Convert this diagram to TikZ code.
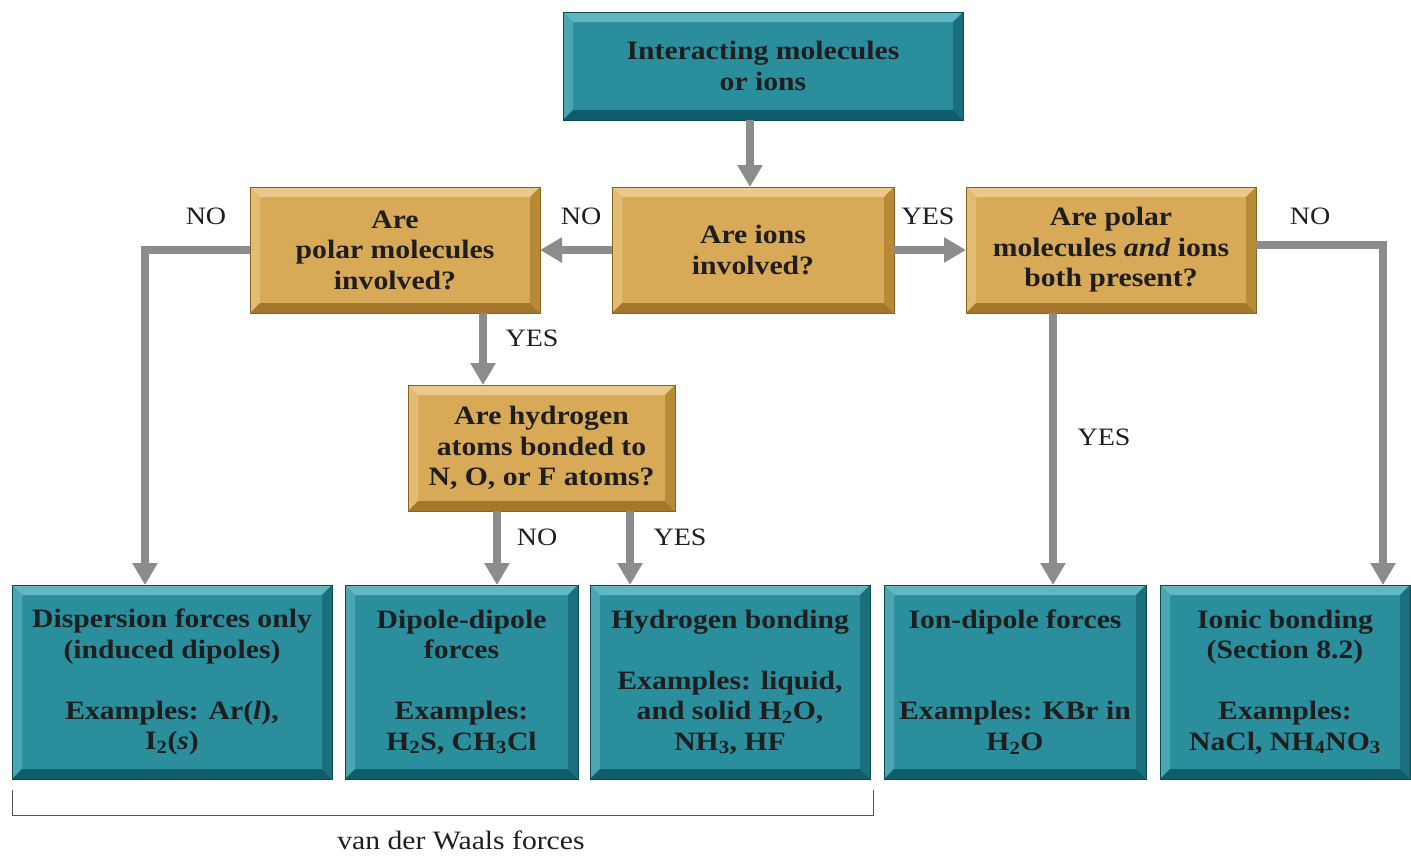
\documentclass[tikz,border=0pt]{standalone}
\usepackage{fontspec}
\setmainfont[FakeStretch=1.12]{Liberation Serif}
\usetikzlibrary{arrows.meta}
\definecolor{tealface}{HTML}{2A8E9C}
\definecolor{teallt}{HTML}{62B6C1}
\definecolor{tealltl}{HTML}{4CA6B2}
\definecolor{tealdk}{HTML}{0F5D6A}
\definecolor{tealdkr}{HTML}{1B6E7B}
\definecolor{tealedge}{HTML}{0B4B56}
\definecolor{goldface}{HTML}{D8A957}
\definecolor{goldlt}{HTML}{EBC98A}
\definecolor{goldltl}{HTML}{E2BC72}
\definecolor{golddk}{HTML}{A4772A}
\definecolor{golddkr}{HTML}{B98A36}
\definecolor{goldedge}{HTML}{8A6220}
\definecolor{textdark}{HTML}{1E1E1E}
\definecolor{arrgrey}{HTML}{8C8C8E}
\definecolor{brackgrey}{HTML}{555555}
\newlength\bvw
\setlength\bvw{10pt}
\newcommand\bevelpic[4]{%
  \fill[#1] (path picture bounding box.north west) -- (path picture bounding box.north east)
    -- ([xshift=-\bvw,yshift=-\bvw]path picture bounding box.north east)
    -- ([xshift=\bvw,yshift=-\bvw]path picture bounding box.north west) -- cycle;
  \fill[#2] (path picture bounding box.north west) -- (path picture bounding box.south west)
    -- ([xshift=\bvw,yshift=\bvw]path picture bounding box.south west)
    -- ([xshift=\bvw,yshift=-\bvw]path picture bounding box.north west) -- cycle;
  \fill[#3] (path picture bounding box.south west) -- (path picture bounding box.south east)
    -- ([xshift=-\bvw,yshift=\bvw]path picture bounding box.south east)
    -- ([xshift=\bvw,yshift=\bvw]path picture bounding box.south west) -- cycle;
  \fill[#4] (path picture bounding box.north east) -- (path picture bounding box.south east)
    -- ([xshift=-\bvw,yshift=\bvw]path picture bounding box.south east)
    -- ([xshift=-\bvw,yshift=-\bvw]path picture bounding box.north east) -- cycle;
}
\newcommand\boxfont{\fontsize{26.5}{30.5}\selectfont\bfseries}
\newcommand\lblfont{\fontsize{25}{28}\selectfont}
\newcommand\vdwfont{\fontsize{26.5}{30}\selectfont}
\tikzset{
  basebox/.style={rectangle, inner sep=0pt, outer sep=0pt, align=center,
    text=textdark, font=\boxfont, line width=0.8pt},
  tealbox/.style={basebox, draw=tealedge, fill=tealface,
    path picture={\bevelpic{teallt}{tealltl}{tealdk}{tealdkr}}},
  goldbox/.style={basebox, draw=goldedge, fill=goldface,
    path picture={\bevelpic{goldlt}{goldltl}{golddk}{golddkr}}},
  arr/.style={draw=arrgrey, line width=8pt, line join=miter,
    -{Triangle[width=24pt,length=22pt,fill=arrgrey]}},
  lbl/.style={font=\lblfont, text=textdark, inner sep=0pt},
  brack/.style={draw=brackgrey, line width=1pt}
}
\begin{document}
\begin{tikzpicture}[x=1pt,y=-1pt]
\useasboundingbox (0,0) rectangle (1411,855);
% question / start boxes
\node[tealbox, minimum width=400pt, minimum height=108pt] (top) at (763,66)
  {Interacting molecules\\or ions};
\node[goldbox, minimum width=290pt, minimum height=126pt] (polar) at (395,250)
  {Are\\polar molecules\\involved?};
\node[goldbox, minimum width=282pt, minimum height=126pt] (ions) at (753,250)
  {Are ions\\involved?};
\node[goldbox, minimum width=290pt, minimum height=126pt] (polions) at (1111,250)
  {Are polar\\molecules \textit{and} ions\\both present?};
\node[goldbox, minimum width=267pt, minimum height=126pt] (hq) at (541.5,448)
  {Are hydrogen\\atoms bonded to\\N, O, or F atoms?};
% result boxes
\node[tealbox, minimum width=320pt, minimum height=194pt] (disp) at (172,682)
  {Dispersion forces only\\(induced dipoles)\\\strut\\Examples: Ar(\textit{l}),\\I\textsubscript{2}(\textit{s})};
\node[tealbox, minimum width=233pt, minimum height=194pt] (dip) at (461.5,682)
  {Dipole-dipole\\forces\\\strut\\Examples:\\H\textsubscript{2}S, CH\textsubscript{3}Cl};
\node[tealbox, minimum width=280pt, minimum height=194pt] (hb) at (730,682)
  {Hydrogen bonding\\\strut\\Examples: liquid,\\and solid H\textsubscript{2}O,\\NH\textsubscript{3}, HF};
\node[tealbox, minimum width=262pt, minimum height=194pt] (iond) at (1015,682)
  {Ion-dipole forces\\\strut\\\strut\\Examples: KBr in\\H\textsubscript{2}O};
\node[tealbox, minimum width=250pt, minimum height=194pt] (ionic) at (1285,682)
  {Ionic bonding\\(Section 8.2)\\\strut\\Examples:\\NaCl, NH\textsubscript{4}NO\textsubscript{3}};
% x positions of vertical arrows
\coordinate (xa) at (750,0);
\coordinate (xb) at (145,0);
\coordinate (xc) at (483,0);
\coordinate (xd) at (497,0);
\coordinate (xe) at (630,0);
\coordinate (xf) at (1053,0);
\coordinate (xg) at (1383,0);
\coordinate (yr) at (0,245);
% connectors
\draw[arr] (top.south -| xa) -- (ions.north -| xa);
\draw[arr] (ions.west) -- (polar.east);
\draw[arr] (ions.east) -- (polions.west);
\draw[arr] (polar.west) -| (disp.north -| xb);
\draw[arr] (polar.south -| xc) -- (hq.north -| xc);
\draw[arr] (hq.south -| xd) -- (dip.north -| xd);
\draw[arr] (hq.south -| xe) -- (hb.north -| xe);
\draw[arr] (polions.south -| xf) -- (iond.north -| xf);
\draw[arr] (polions.east |- yr) -| (ionic.north -| xg);
% labels
\node[lbl] (l1) at (206,216) {NO};
\node[lbl] (l2) at (581,216) {NO};
\node[lbl] (l3) at (928,216) {YES};
\node[lbl] (l4) at (1310,216) {NO};
\node[lbl] (l5) at (532,338) {YES};
\node[lbl] (l6) at (537,537) {NO};
\node[lbl] (l7) at (680,537) {YES};
\node[lbl] (l8) at (1104,437) {YES};
% bracket
\coordinate (b1) at (12,790);
\coordinate (b2) at (12,815);
\coordinate (b3) at (873,815);
\coordinate (b4) at (873,790);
\draw[brack] (b1) -- (b2) -- (b3) -- (b4);
\node[lbl, font=\vdwfont] (vdw) at (461,840) {van der Waals forces};
\end{tikzpicture}
\end{document}
